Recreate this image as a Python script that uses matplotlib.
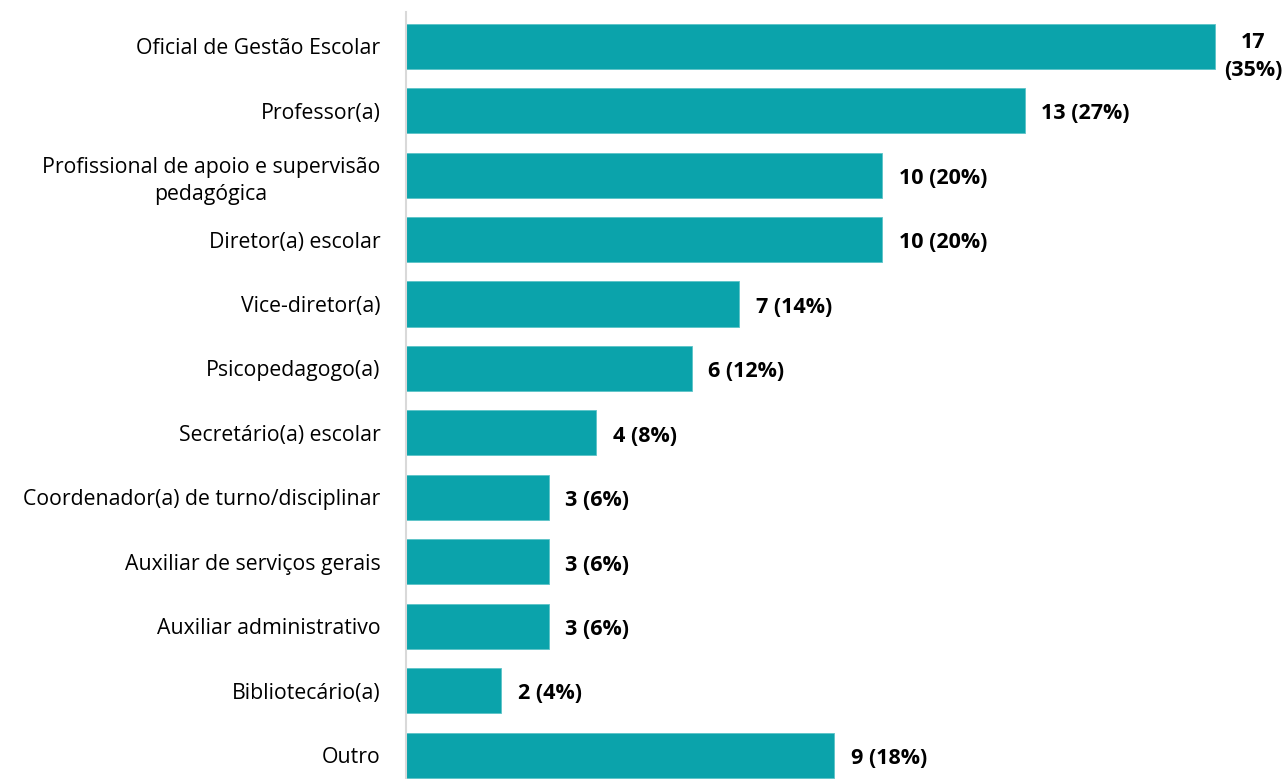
import matplotlib
matplotlib.use("Agg")
import matplotlib.pyplot as plt

categories = [
    "Oficial de Gestão Escolar",
    "Professor(a)",
    "Profissional de apoio e supervisão\npedagógica",
    "Diretor(a) escolar",
    "Vice-diretor(a)",
    "Psicopedagogo(a)",
    "Secretário(a) escolar",
    "Coordenador(a) de turno/disciplinar",
    "Auxiliar de serviços gerais",
    "Auxiliar administrativo",
    "Bibliotecário(a)",
    "Outro",
]
counts = [17, 13, 10, 10, 7, 6, 4, 3, 3, 3, 2, 9]
percents = [35, 27, 20, 20, 14, 12, 8, 6, 6, 6, 4, 18]

BAR_COLOR = "#0BA3AB"
plt.rcParams["font.family"] = ["Open Sans", "DejaVu Sans"]

fig = plt.figure(figsize=(12.88, 7.79), dpi=100)
ax = fig.add_axes([406 / 1288, 0.0, 1 - 406 / 1288, 1 - 12 / 779])

ypos = list(range(len(categories)))
ax.barh(ypos, counts, height=0.7, color=BAR_COLOR, edgecolor="#5CC3C8", linewidth=0.6)

ax.set_ylim(11.37, -0.53)
ax.set_xlim(0, (1288 - 406) / 47.6)

for y, c, p in zip(ypos, counts, percents):
    if c == max(counts):
        # no room to the right of the longest bar, so the label wraps
        ax.text(c + 0.8, y + 0.16, f"{c}\n({p}%)", ha="center", va="center",
                fontsize=15.5, fontweight="bold", linespacing=1.45)
    else:
        ax.text(c + 0.35, y + 0.05, f"{c} ({p}%)", ha="left", va="center",
                fontsize=15.5, fontweight="bold")

ax.set_yticks(ypos)
ax.set_yticklabels(categories, fontsize=15.3, multialignment="center",
                   linespacing=1.4)
ax.tick_params(axis="y", length=0, pad=18.5)
ax.set_xticks([])

for side in ("top", "right", "bottom"):
    ax.spines[side].set_visible(False)
ax.spines["left"].set_color("#D9D9D9")
ax.spines["left"].set_linewidth(1.5)

fig.savefig("out.png", dpi=100)
